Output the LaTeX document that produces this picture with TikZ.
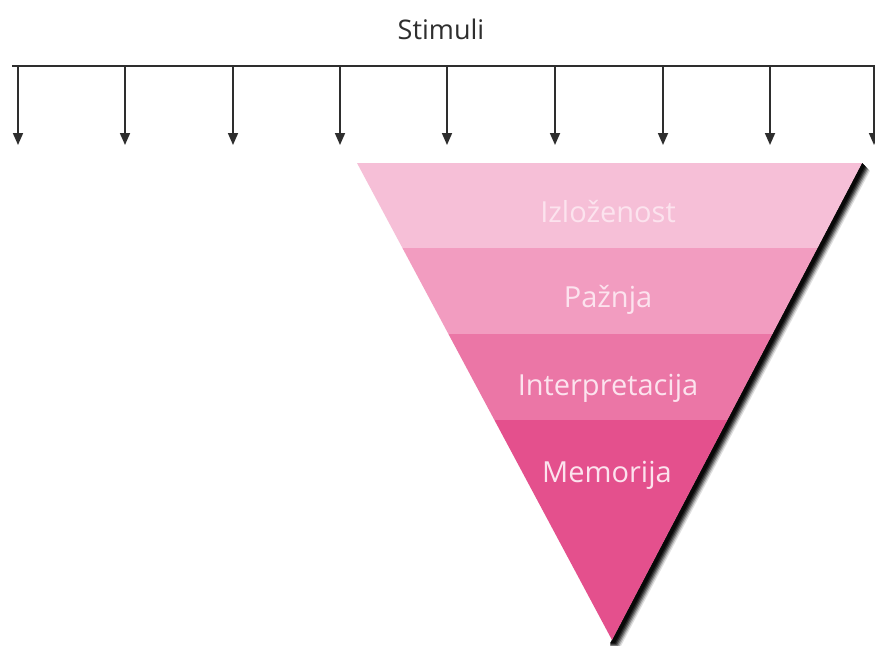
\documentclass[tikz,border=0pt]{standalone}
\usepackage{fontspec}
\setmainfont{Open Sans}
\usetikzlibrary{arrows.meta}
\definecolor{lineg}{HTML}{2E2E2E}
\definecolor{bandA}{HTML}{F6BFD7}
\definecolor{bandB}{HTML}{F29CC0}
\definecolor{bandC}{HTML}{EB76A6}
\definecolor{bandD}{HTML}{E4508D}
\definecolor{labtxt}{HTML}{FCE3EE}
\tikzset{
  stim/.style={draw=lineg, line width=1.7pt, -{Triangle[width=10pt,length=12pt]}},
  bar/.style={draw=lineg, line width=1.7pt},
  lab/.style={text=labtxt, font=\fontsize{29}{32}\selectfont, inner sep=0pt},
}
\begin{document}
\begin{tikzpicture}[x=1pt,y=-1pt]
\useasboundingbox (0,0) rectangle (875,645);
\fill[white] (0,0) rectangle (875,645);
% title
\node[text=lineg, font=\fontsize{27}{30}\selectfont, inner sep=0pt] (title) at (441,29) {Stimuli};
% bar
\coordinate (bl) at (12,66);
\coordinate (br) at (880,66);
\draw[bar] (bl) -- (br);
\foreach \i/\x in {1/18,2/125,3/233,4/340,5/447,6/555,7/663,8/770,9/874}{
  \coordinate (s\i) at (\x,66);
  \coordinate (e\i) at (\x,145);
  \draw[stim] (s\i) -- (e\i);
}
% shadow
\coordinate (tl) at (357,163);
\coordinate (tr) at (862,163);
\coordinate (ap) at (612,640);
\foreach \d/\o in {8/0.12,7/0.2,6/0.3,5/0.4,4/0.55,3/0.75}{
  \fill[black, opacity=\o] ([shift={(\d,\d)}]tr) -- ([shift={(\d,\d)}]ap) -- ([shift={(-2,\d)}]ap) -- (ap) -- (tr) -- cycle;
}
% funnel
\begin{scope}
  \clip (tl) -- (tr) -- (ap) -- cycle;
  \fill[bandA] (300,160) rectangle (900,248);
  \fill[bandB] (300,248) rectangle (900,334);
  \fill[bandC] (300,334) rectangle (900,420);
  \fill[bandD] (300,420) rectangle (900,650);
\end{scope}
\node[lab] (l1) at (608,212) {Izloženost};
\node[lab] (l2) at (608,300) {Pažnja};
\node[lab] (l3) at (608,388) {Interpretacija};
\node[lab] (l4) at (607,475) {Memorija};
\end{tikzpicture}
\end{document}
